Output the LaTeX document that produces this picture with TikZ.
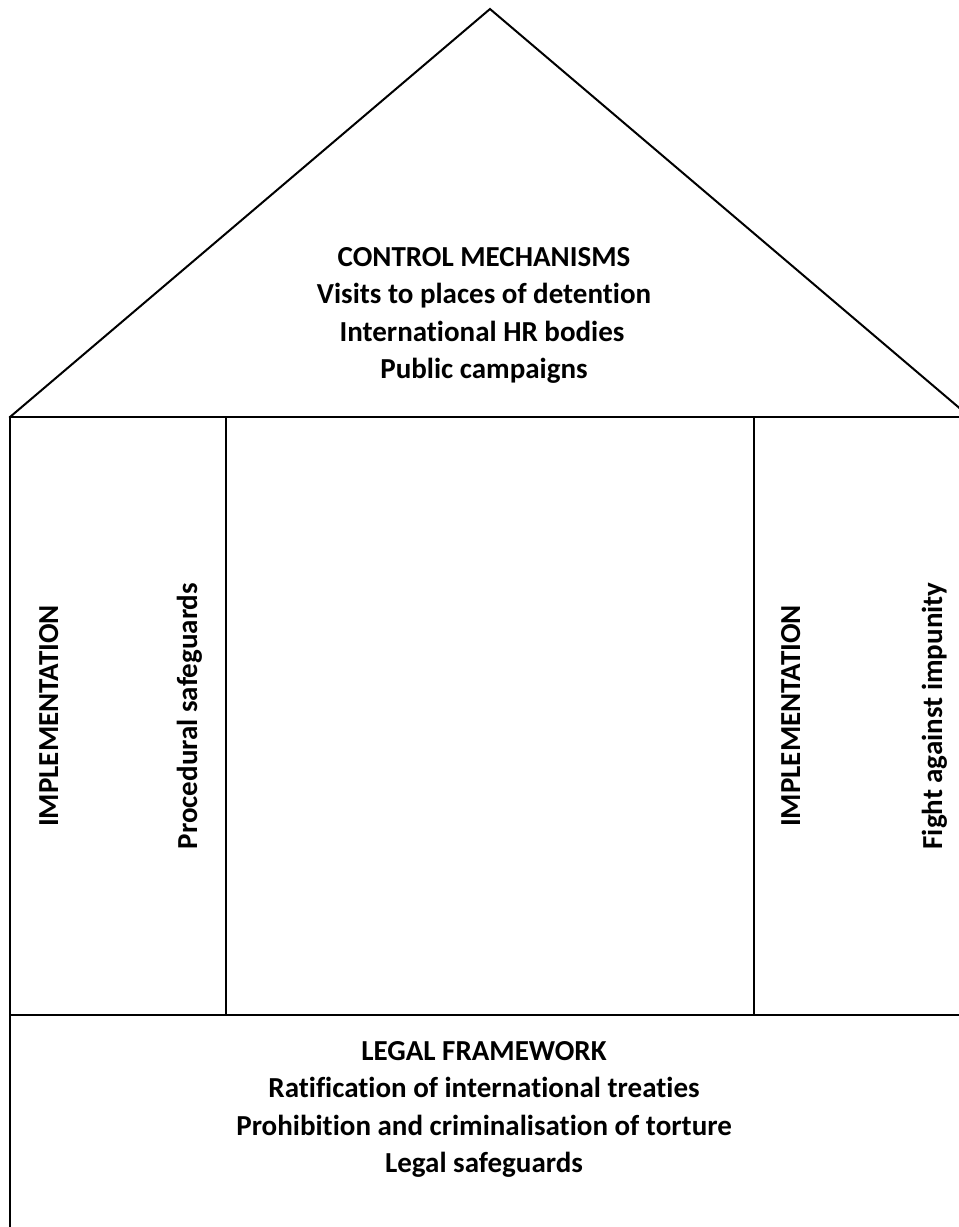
\documentclass[tikz,border=0pt]{standalone}
\usepackage{fontspec}
\setmainfont{Carlito}[Ligatures=NoCommon]
\begin{document}
\begin{tikzpicture}[x=1pt,y=-1pt,
  wall/.style={line width=2pt, line cap=rect},
  txt/.style={font=\fontsize{29}{35}\selectfont\bfseries, inner sep=0pt, anchor=base},
  vtxt/.style={txt, rotate=90}]
\useasboundingbox (0,0) rectangle (959,1227);
\clip (0,0) rectangle (959,1227);
% frame coordinates
\coordinate (apex) at (490,9);
\coordinate (bl) at (10,417);
\coordinate (br) at (970,417);
\coordinate (fl) at (10,1015);
\coordinate (fr) at (970,1015);
\coordinate (bot) at (10,1240);
\coordinate (d1t) at (226,417);
\coordinate (d1b) at (226,1015);
\coordinate (d2t) at (754,417);
\coordinate (d2b) at (754,1015);
% roof
\draw[wall, line join=miter] (bl) -- (apex) -- (br);
\draw[wall] (bl) -- (br);
% walls
\draw[wall] (bl) -- (bot);
\draw[wall] (d1t) -- (d1b);
\draw[wall] (d2t) -- (d2b);
\draw[wall] (fl) -- (fr);
% roof text
\node[txt] (t1) at (484,266) {CONTROL MECHANISMS};
\node[txt] (t2) at (484,303.5) {Visits to places of detention};
\node[txt] (t3) at (482,341) {International HR bodies};
\begin{scope}
\clip (0,0) rectangle (959,383);
\node[txt] (t4) at (484,378.5) {Public campaigns};
\end{scope}
% pillars
\node[vtxt] (p1) at (58,716) {IMPLEMENTATION};
\node[vtxt] (p2) at (197,716) {Procedural safeguards};
\node[vtxt] (p3) at (800,716) {IMPLEMENTATION};
\node[vtxt] (p4) at (942,716) {Fight against impunity};
% foundation text
\node[txt] (f1) at (484,1060) {LEGAL FRAMEWORK};
\node[txt] (f2) at (484,1097.5) {Ratification of international treaties};
\node[txt] (f3) at (484,1135) {Prohibition and criminalisation of torture};
\node[txt] (f4) at (484,1172.5) {Legal safeguards};
\end{tikzpicture}
\end{document}
